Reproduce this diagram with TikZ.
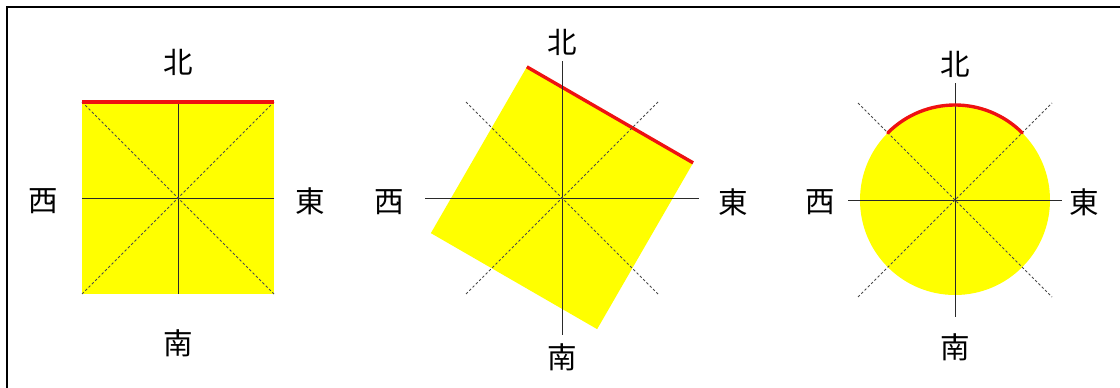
\documentclass[tikz,border=0pt]{standalone}
\usepackage{fontspec}
\usepackage{xcolor}
\usepackage{tikz}
\usetikzlibrary{positioning}
\newfontfamily\jpfont{Noto Sans CJK JP}
\definecolor{dirFill}{HTML}{FFFF00}
\definecolor{dirNorth}{HTML}{EE1111}
\definecolor{dirAxis}{HTML}{2A2A2A}
\tikzset{
  dirlabel/.style={font=\jpfont\fontsize{21}{21}\selectfont, inner sep=0pt},
  axisline/.style={draw=dirAxis, line width=0.6pt},
  diagline/.style={draw=dirAxis!85, line width=0.55pt, dash pattern=on 1.8pt off 1.5pt},
  northedge/.style={draw=dirNorth, line width=2.4pt, line cap=round},
  plate/.style={fill=dirFill},
  frameline/.style={line width=1.6pt, black}
}
\begin{document}
\begin{tikzpicture}[x=0.025cm, y=0.025cm]
  \useasboundingbox (0,0) rectangle (1120,388);
  \draw[frameline] (7,0) -- (7,381) -- (1120,381);

  % square facing north
  \begin{scope}[shift={(178,190)}]
    \coordinate (c1) at (0,0);
    \fill[plate] (-96,-96) rectangle (96,96);
    \draw[axisline] (0,-96) -- (0,96) (-96,0) -- (96,0);
    \draw[diagline] (-96,-96) -- (96,96) (-96,96) -- (96,-96);
    \draw[northedge, line cap=butt] (-96,96) -- (96,96);
    \foreach \name/\txt/\pos in {n1/北/{(0,136)}, s1/南/{(0,-145)}, w1/西/{(-135,-3)}, e1/東/{(132,-3)}}
      \node[dirlabel] (\name) at \pos {\txt};
  \end{scope}

  % square turned by 30 degrees
  \begin{scope}[shift={(562,190)}]
    \coordinate (c2) at (0,0);
    \begin{scope}[rotate=-30]
      \fill[plate] (-96,-96) rectangle (96,96);
      \draw[northedge, line cap=butt] (-96,96) -- (96,96);
    \end{scope}
    \draw[axisline] (0,-137) -- (0,137) (-137,0) -- (137,0);
    \draw[diagline] (-96,-96) -- (96,96) (-96,96) -- (96,-96);
    \foreach \name/\txt/\pos in {n2/北/{(0,156)}, s2/南/{(0,-159)}, w2/西/{(-173,-4)}, e2/東/{(171,-4)}}
      \node[dirlabel] (\name) at \pos {\txt};
  \end{scope}

  % round plate
  \begin{scope}[shift={(955,188)}]
    \coordinate (c3) at (0,0);
    \fill[plate] (c3) circle[radius=95];
    \draw[axisline] (0,-117) -- (0,117) (-107,0) -- (107,0);
    \draw[diagline] (-97,-97) -- (97,97) (-97,97) -- (97,-97);
    \draw[northedge] (45:95) arc[start angle=45, end angle=135, radius=95];
    \foreach \name/\txt/\pos in {n3/北/{(0,136)}, s3/南/{(0,-147)}, w3/西/{(-135,-2)}, e3/東/{(129,-2)}}
      \node[dirlabel] (\name) at \pos {\txt};
  \end{scope}
\end{tikzpicture}
\end{document}
